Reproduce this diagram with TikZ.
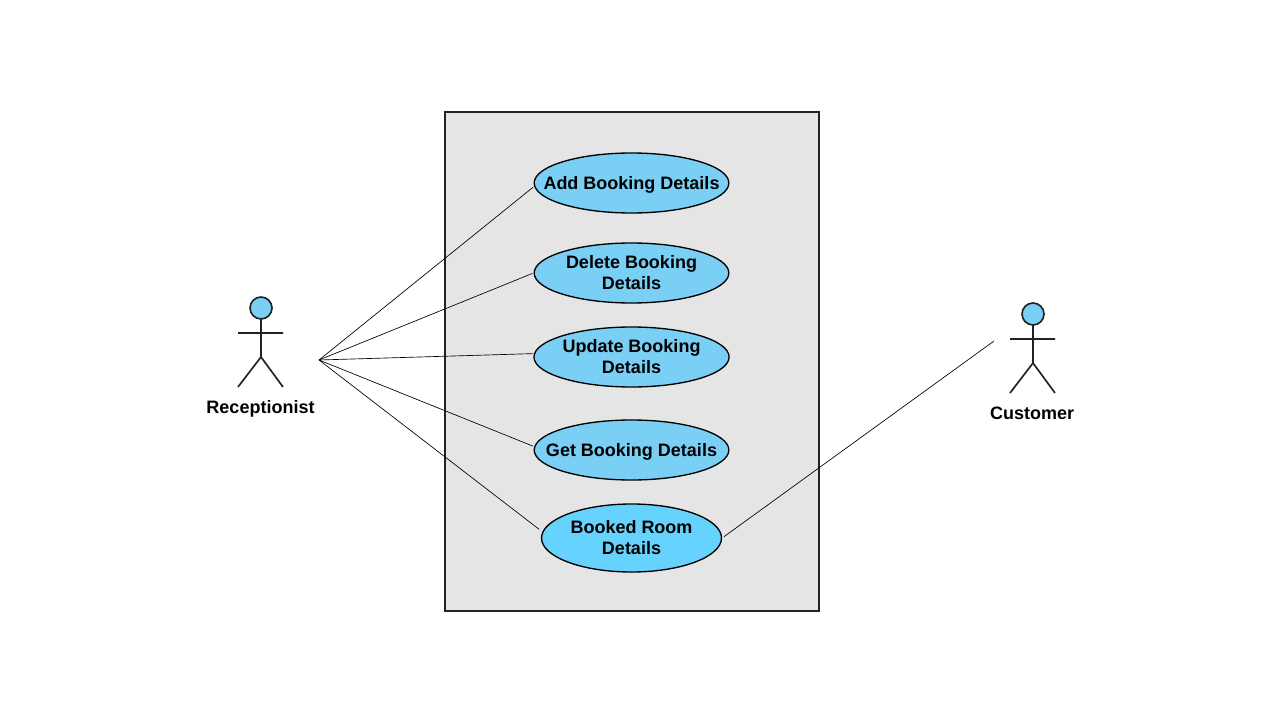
\documentclass[tikz,border=0pt]{standalone}
\usepackage{fontspec}
\setmainfont{Liberation Sans}
\usepackage{xcolor}
\usetikzlibrary{shapes.geometric}
\definecolor{usecasefill}{HTML}{7ACFF5}
\definecolor{bookedfill}{HTML}{66D3FF}
\definecolor{systemfill}{HTML}{E5E5E5}
\definecolor{edgedark}{HTML}{222222}
\tikzset{
	usecase/.style={ellipse, draw=black, line width=1pt, fill=usecasefill, minimum width=146pt, minimum height=45pt, inner sep=0pt, align=center, font=\fontsize{13.5}{15.8}\selectfont\bfseries},
	oneline/.style={inner xsep=-16pt, text depth=0pt},
	actorname/.style={font=\fontsize{13.5}{15.8}\selectfont\bfseries},
	assoc/.style={line width=0.5pt, black},
	actor/.pic={
		\draw[line width=1.25pt, edgedark] (0,-14) -- (0,35) (-23,11) -- (22,11) (-23,65) -- (0,35) -- (22,65);
		\draw[line width=1.25pt, edgedark, fill=usecasefill] (0,-14) circle (11);
	}
}
\begin{document}
\begin{tikzpicture}[x=0.75pt,y=-0.75pt]
\useasboundingbox (0,0) rectangle (1280,720);
\node[draw=edgedark, line width=1pt, fill=systemfill, minimum width=280.5pt, minimum height=374pt, inner sep=0pt] (system) at (632,361.5) {};

\node[usecase, oneline] (add) at (631.5,183) {Add Booking Details};
\node[usecase] (delete) at (631.5,273) {Delete Booking\\Details};
\node[usecase] (update) at (631.5,357) {Update Booking\\Details};
\node[usecase, oneline] (get) at (631.5,450) {Get Booking Details};
\node[usecase, fill=bookedfill, minimum width=135pt, minimum height=51pt] (booked) at (631.5,538) {Booked Room\\Details};

\pic at (261,322) {actor};
\node[actorname] (receptionist) at (260.5,408.5) {Receptionist};
\pic at (1033,328) {actor};
\node[actorname] (customer) at (1032,413) {Customer};

\coordinate (recv) at (319,360);
\coordinate (cust) at (994,341);

\path[assoc, shorten >=1pt]
(recv) edge (add.182)
(recv) edge (delete.west)
(recv) edge (update.178)
(recv) edge (get.178);
\path[assoc, shorten >=3pt]
(recv) edge (booked.176.5);
\draw[assoc, shorten <=1.5pt] (booked.east) -- (cust);
\end{tikzpicture}
\end{document}
